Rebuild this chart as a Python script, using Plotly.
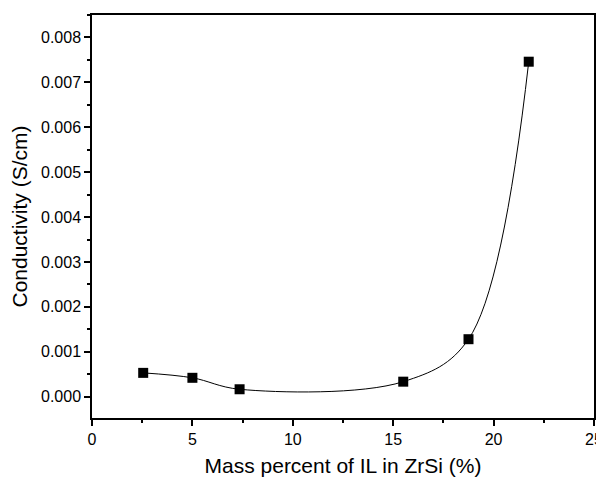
import plotly.graph_objects as go

mass_percent = [2.55, 5.0, 7.35, 15.5, 18.75, 21.75]
conductivity = [0.00053, 0.00042, 0.000165, 0.000334, 0.00128, 0.00746]

fig = go.Figure()
fig.add_trace(go.Scatter(
    x=mass_percent, y=conductivity, mode="lines+markers",
    line=dict(color="black", width=1, shape="spline", smoothing=1.0),
    marker=dict(symbol="square", size=10, color="black"),
    showlegend=False,
))

font = "Liberation Sans, Arial, sans-serif"
# page body has an 8px offset; margins compensate so the plot area matches
fig.update_layout(
    width=604, height=482,
    margin=dict(l=84, r=18, t=7, b=72),
    paper_bgcolor="white", plot_bgcolor="white",
    font=dict(family=font, color="black", size=16),
)
fig.update_xaxes(
    range=[0, 25], dtick=5, tick0=0, automargin=False,
    showgrid=False, zeroline=False,
    showline=True, linecolor="black", linewidth=1.5, mirror=True,
    ticks="outside", ticklen=6, tickwidth=1.5, tickcolor="black",
    minor=dict(ticks="outside", ticklen=3, dtick=2.5, tickcolor="black", tickwidth=1.5),
    title=dict(text="Mass percent of IL in ZrSi (%)", font=dict(size=21), standoff=11),
    tickfont=dict(size=16),
)
fig.update_yaxes(
    range=[-0.000475, 0.0085], dtick=0.001, tick0=0, tickformat=".3f", automargin=False,
    showgrid=False, zeroline=False,
    showline=True, linecolor="black", linewidth=1.5, mirror=True,
    ticks="outside", ticklen=6, tickwidth=1.5, tickcolor="black",
    minor=dict(ticks="outside", ticklen=3, dtick=0.0005, tickcolor="black", tickwidth=1.5),
    title=dict(text="Conductivity (S/cm)", font=dict(size=21), standoff=9),
    tickfont=dict(size=16),
)
fig.write_html("out.html")
